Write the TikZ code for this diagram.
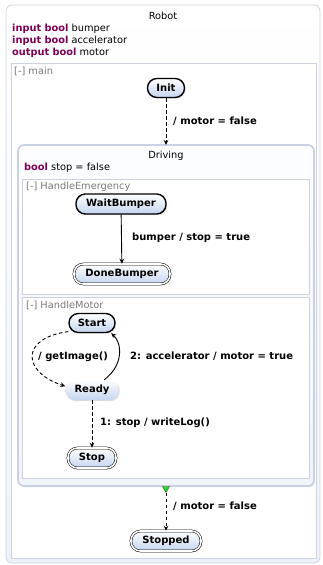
\documentclass[tikz,border=0pt]{standalone}
\usepackage{fontspec}
\setmainfont{DejaVu Sans}
\usetikzlibrary{shapes.geometric,arrows.meta,shadows}
\definecolor{kw}{HTML}{7F0055}
\definecolor{regborder}{HTML}{CDD2DC}
\definecolor{gtext}{HTML}{7A7A7A}
\definecolor{stfill}{HTML}{C4D4EE}
\definecolor{drvborder}{HTML}{C8D2E4}
\tikzset{
  x=1bp,y=-1bp,
  lbl/.style={font=\fontsize{10bp}{12bp}\selectfont\bfseries, anchor=west, inner sep=0},
  txt/.style={font=\fontsize{9.8bp}{12bp}\selectfont, inner sep=0},
  gray label/.style={font=\fontsize{9.8bp}{12bp}\selectfont, text=gtext, anchor=west, inner sep=0},
  state/.style={rectangle, rounded corners=9.4bp, minimum height=20bp, inner sep=0,
     top color=white, bottom color=stfill, font=\fontsize{10bp}{12bp}\selectfont\bfseries,
     drop shadow={shadow xshift=1.2bp,shadow yshift=-1.2bp,opacity=0.25}},
  initstate/.style={state, draw=black, line width=1.4bp},
  finalstate/.style={state, draw=black, double=white, double distance=1.6bp, line width=0.5bp},
  plainstate/.style={state},
  trans/.style={-{Stealth[length=5bp,width=4.5bp]}, line width=0.9bp},
  dtrans/.style={trans, dash pattern=on 3.5bp off 2.5bp},
  region/.style={draw=regborder, fill=white, line width=0.8bp},
}
\begin{document}
\begin{tikzpicture}
\useasboundingbox (0,0) rectangle (322,565);
% outer Robot box
\draw[draw=regborder, line width=0.8bp, rounded corners=6bp, top color=white, bottom color=white!70!stfill]
  (6,5) rectangle (320,563);
\node[txt] (robot) at (163,16) {Robot};
\node[txt, anchor=west] (v1) at (12,29) {\textcolor{kw}{\bfseries input bool} bumper};
\node[txt, anchor=west] (v2) at (12,41) {\textcolor{kw}{\bfseries input bool} accelerator};
\node[txt, anchor=west] (v3) at (12,53) {\textcolor{kw}{\bfseries output bool} motor};
% main region
\draw[region] (11,63) rectangle (316,558);
\node[gray label] (mainlbl) at (14,71) {[-] main};
\node[initstate, minimum width=37bp, minimum height=19bp] (init) at (166,88) {Init};
% Driving composite
\draw[draw=drvborder, line width=1.6bp, rounded corners=6bp, top color=white!96!stfill, bottom color=white!75!stfill,
  drop shadow={shadow xshift=1.2bp,shadow yshift=-1.2bp,opacity=0.2}]
  (18,145) rectangle (314,486);
\coordinate (drvtop) at (166,145);
\node[txt] (driving) at (166,156) {Driving};
\node[txt, anchor=west] (stopvar) at (24,168) {\textcolor{kw}{\bfseries bool} stop = false};
% HandleEmergency
\draw[region] (22,179) rectangle (309,294);
\node[gray label] (helbl) at (26,187) {[-] HandleEmergency};
\node[initstate, minimum width=90bp] (wait) at (121,204) {WaitBumper};
\node[finalstate, minimum width=96bp] (done) at (122,274) {DoneBumper};
\draw[trans] (wait) -- (done);
\node[lbl] (l2) at (132,238) {bumper / stop = true};
% HandleMotor
\draw[region] (22,297) rectangle (309,478);
\node[gray label] (hmlbl) at (26,305) {[-] HandleMotor};
\node[initstate, minimum width=46bp, minimum height=19bp] (start) at (92,323) {Start};
\node[plainstate, minimum width=53bp] (ready) at (92,390) {Ready};
\node[finalstate, minimum width=48bp] (stop) at (92,458) {Stop};
\draw[dtrans] (start.200) .. controls (20,338) and (22,372) .. (ready.172);
\node[lbl] (l3) at (38,357) {/ getImage()};
\draw[trans] (ready.40) .. controls (124,365) and (122,343) .. (start.-28);
\node[lbl] (l4) at (130,356) {2: accelerator / motor = true};
\draw[dtrans] (ready) -- (stop);
\node[lbl] (l5) at (100,423) {1: stop / writeLog()};
% transitions in main
\draw[dtrans] (init) -- (drvtop);
\node[lbl] (l1) at (173,121) {/ motor = false};
\node[isosceles triangle, isosceles triangle apex angle=60, shape border rotate=-90, fill=green!80!black!80, draw=green!40!black,
  line width=0.4bp, minimum size=6bp, inner sep=0] (exitpt) at (166,488.5) {};
\node[finalstate, minimum width=70bp] (stopped) at (166,541) {Stopped};
\draw[dtrans] (exitpt.south) -- (stopped);
\node[lbl] (l6) at (173,506) {/ motor = false};
\end{tikzpicture}
\end{document}
